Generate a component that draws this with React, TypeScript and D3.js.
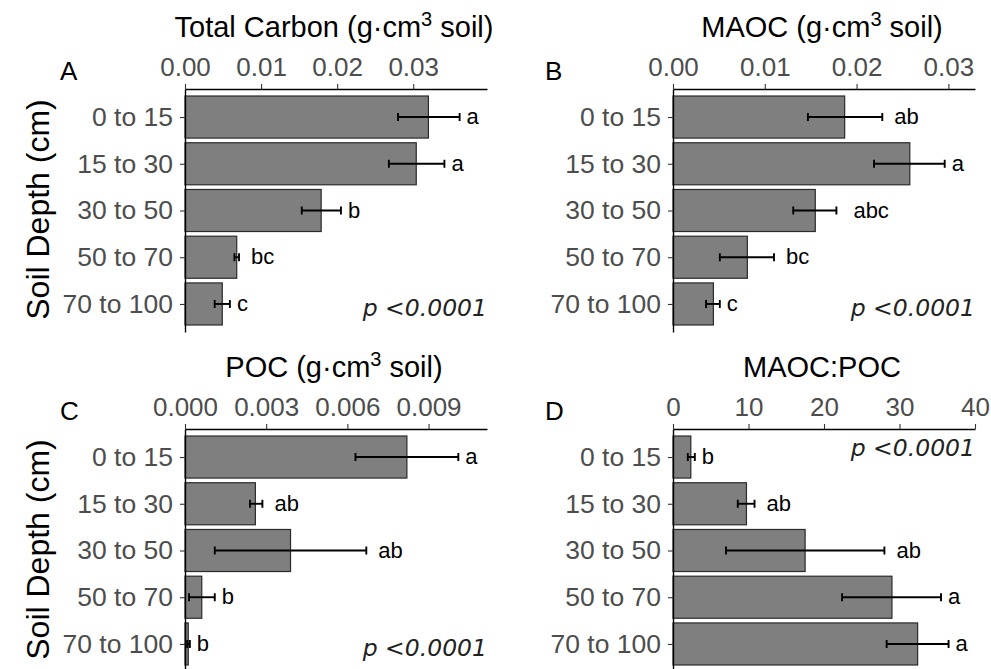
import React, { useEffect, useRef } from "react";
import * as d3 from "d3";

// soil depth classes (top to bottom)
const depths = ["0 to 15", "15 to 30", "30 to 50", "50 to 70", "70 to 100"];

// Total carbon (g cm3 soil)
const tcMean = [0.032, 0.0304, 0.0179, 0.0068, 0.0049];
const tcLo = [0.028, 0.0268, 0.01535, 0.0065, 0.0039];
const tcHi = [0.0361, 0.0341, 0.0205, 0.0071, 0.0059];
const tcLetters = ["a", "a", "b", "bc", "c"];

// MAOC
const maocMean = [0.0187, 0.0258, 0.0155, 0.0081, 0.0044];
const maocLo = [0.0147, 0.0219, 0.0131, 0.0051, 0.0036];
const maocHi = [0.0228, 0.0296, 0.0178, 0.011, 0.0051];
const maocLetters = ["ab", "a", "abc", "bc", "c"];

// POC
const pocMean = [0.0082, 0.0026, 0.0039, 0.00062, 0.00012];
const pocLo = [0.0063, 0.0024, 0.0011, 0.00015, 0.00008];
const pocHi = [0.0101, 0.00286, 0.0067, 0.0011, 0.00018];
const pocLetters = ["a", "ab", "ab", "b", "b"];

// MAOC:POC ratio
const ratioMean = [2.36, 9.73, 17.5, 29.0, 32.4];
const ratioLo = [1.96, 8.58, 7.02, 22.4, 28.3];
const ratioHi = [2.89, 10.8, 28.0, 35.5, 36.5];
const ratioLetters = ["b", "ab", "ab", "a", "a"];

const carbonTicks = [0, 0.01, 0.02, 0.03];
const pocTicks = [0, 0.003, 0.006, 0.009];
const ratioTicks = [0, 10, 20, 30, 40];

const pLabel = "p <0.0001";

const FONT = "'Liberation Sans', Arial, Helvetica, sans-serif";
const W = 302,
  H = 243;

const panels = [
  { tag: "A", title: "Total Carbon (g·cm", sup: "3", rest: " soil)", left: 185, top: 89, xMax: 0.0397, ticks: carbonTicks, fmt: ".2f", mean: tcMean, lo: tcLo, hi: tcHi, letters: tcLetters, yTitle: true, pRow: 4, pDy: 12 },
  { tag: "B", title: "MAOC (g·cm", sup: "3", rest: " soil)", left: 673, top: 89, xMax: 0.0329, ticks: carbonTicks, fmt: ".2f", mean: maocMean, lo: maocLo, hi: maocHi, letters: maocLetters, yTitle: false, pRow: 4, pDy: 12 },
  { tag: "C", title: "POC (g·cm", sup: "3", rest: " soil)", left: 185, top: 429, xMax: 0.01116, ticks: pocTicks, fmt: ".3f", mean: pocMean, lo: pocLo, hi: pocHi, letters: pocLetters, yTitle: true, pRow: 4, pDy: 12 },
  { tag: "D", title: "MAOC:POC", sup: "", rest: "", left: 673, top: 429, xMax: 40, ticks: ratioTicks, fmt: "d", mean: ratioMean, lo: ratioLo, hi: ratioHi, letters: ratioLetters, yTitle: false, pRow: 0, pDy: -1 },
];

export default function App() {
  const ref = useRef<SVGSVGElement>(null);

  useEffect(() => {
    const svg = d3.select(ref.current);
    svg.selectAll("*").remove();

    panels.forEach((p) => {
      const g = svg.append("g").attr("transform", `translate(${p.left},${p.top})`);

      const x = d3.scaleLinear().domain([0, p.xMax]).range([0, W]);
      const y = d3.scalePoint<string>().domain(depths).range([0, H]).padding(0.6);
      const bh = y.step() * 0.9;

      // bars
      g.selectAll(".bar")
        .data(depths)
        .join("rect")
        .attr("class", "bar")
        .attr("x", x(0))
        .attr("y", (d) => y(d)! - bh / 2)
        .attr("width", (d, i) => x(p.mean[i]) - x(0))
        .attr("height", bh)
        .attr("fill", "#7f7f7f")
        .attr("stroke", "#2b2b2b")
        .attr("stroke-width", 1.2);

      // error bars
      const eb = g.selectAll(".err").data(depths).join("g").attr("class", "err");
      eb.append("line")
        .attr("x1", (d, i) => x(p.lo[i]))
        .attr("x2", (d, i) => x(p.hi[i]))
        .attr("y1", (d) => y(d)!)
        .attr("y2", (d) => y(d)!);
      eb.append("line")
        .attr("x1", (d, i) => x(p.lo[i]))
        .attr("x2", (d, i) => x(p.lo[i]))
        .attr("y1", (d) => y(d)! - 4)
        .attr("y2", (d) => y(d)! + 4);
      eb.append("line")
        .attr("x1", (d, i) => x(p.hi[i]))
        .attr("x2", (d, i) => x(p.hi[i]))
        .attr("y1", (d) => y(d)! - 4)
        .attr("y2", (d) => y(d)! + 4);
      eb.selectAll("line").attr("stroke", "#000").attr("stroke-width", 1.9);

      // significance letters
      g.selectAll(".lett")
        .data(depths)
        .join("text")
        .attr("class", "lett")
        .attr("x", (d, i) => x(p.hi[i]) + 7 + 5 * (p.letters[i].length - 1))
        .attr("y", (d) => y(d)! + 7)
        .attr("font-family", FONT)
        .attr("font-size", 22)
        .attr("fill", "#000")
        .text((d, i) => p.letters[i]);

      // top axis
      const xa = g.append("g").call(
        d3.axisTop(x).tickValues(p.ticks).tickFormat(d3.format(p.fmt)).tickSize(5).tickSizeOuter(0).tickPadding(8)
      );
      xa.select(".domain").attr("stroke", "#000").attr("stroke-width", 1.4);
      xa.selectAll(".tick line").attr("stroke", "#333").attr("stroke-width", 1.1);
      xa.selectAll(".tick text").attr("font-family", FONT).attr("font-size", 26).attr("fill", "#4d4d4d");

      // left axis
      const ya = g.append("g").call(d3.axisLeft(y).tickSize(5).tickSizeOuter(0).tickPadding(7));
      ya.select(".domain").attr("stroke", "#000").attr("stroke-width", 1.4);
      ya.selectAll(".tick line").attr("stroke", "#333").attr("stroke-width", 1.1);
      ya.selectAll(".tick text").attr("font-family", FONT).attr("font-size", 26.5).attr("fill", "#4d4d4d");

      // panel title
      const t = g.append("text")
        .attr("x", W / 2 - 2)
        .attr("y", -52)
        .attr("text-anchor", "middle")
        .attr("font-family", FONT)
        .attr("font-size", 29)
        .attr("fill", "#000");
      t.append("tspan").text(p.title);
      if (p.sup) {
        t.append("tspan").attr("dy", -11).attr("font-size", 20).text(p.sup);
        t.append("tspan").attr("dy", 11).text(p.rest);
      }

      // panel tag
      g.append("text")
        .attr("x", p.left === 185 ? 60 - p.left : 545 - p.left)
        .attr("y", -9)
        .attr("font-family", FONT)
        .attr("font-size", 26)
        .attr("fill", "#000")
        .text(p.tag);

      // p value
      g.append("text")
        .attr("x", W)
        .attr("y", y(depths[p.pRow])! + p.pDy)
        .attr("text-anchor", "end")
        .attr("font-family", "'DejaVu Sans', sans-serif")
        .attr("font-style", "italic")
        .attr("font-size", 23.5)
        .attr("fill", "#222")
        .text(pLabel);

      // y axis title
      if (p.yTitle) {
        g.append("text")
          .attr("transform", `translate(${49 - p.left},${H / 2 - 1}) rotate(-90)`)
          .attr("text-anchor", "middle")
          .attr("font-family", FONT)
          .attr("font-size", 32)
          .attr("fill", "#000")
          .text("Soil Depth (cm)");
      }
    });
  }, []);

  return (
    <svg
      ref={ref}
      width={991}
      height={669}
      style={{ position: "absolute", left: 0, top: 0, background: "#fff" }}
    />
  );
}
